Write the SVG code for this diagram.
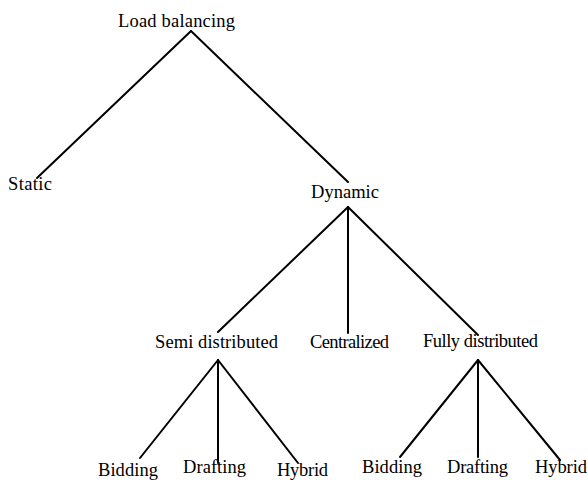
<svg xmlns="http://www.w3.org/2000/svg" width="588" height="480" viewBox="0 0 588 480">
<style>
text{font-family:"Liberation Serif","Times New Roman",serif;font-size:18.5px;fill:#000}
.c line{stroke:#000;stroke-width:2;stroke-linecap:round}
</style>
<rect width="588" height="480" fill="#fff"/>
<g class="c" id="connectors">
<line x1="191" y1="31" x2="37" y2="178"/>
<line x1="191" y1="31" x2="348" y2="182"/>
<line x1="348" y1="207" x2="218" y2="332"/>
<line x1="348" y1="207" x2="348" y2="333"/>
<line x1="348" y1="207" x2="478" y2="335"/>
<line x1="218" y1="360" x2="140" y2="458"/>
<line x1="218" y1="360" x2="218" y2="463"/>
<line x1="218" y1="360" x2="298" y2="463"/>
<line x1="478" y1="360" x2="400" y2="457"/>
<line x1="478" y1="360" x2="478" y2="457"/>
<line x1="478" y1="360" x2="560" y2="460"/>
</g>
<g id="load-balancing"><text x="118" y="27" textLength="117">Load balancing</text></g>
<g id="static"><text x="8" y="190" textLength="44">Static</text></g>
<g id="dynamic"><text x="311" y="198" textLength="68">Dynamic</text></g>
<g id="semi-distributed"><text x="155" y="348" textLength="123">Semi distributed</text></g>
<g id="centralized"><text x="310" y="348" textLength="79">Centralized</text></g>
<g id="fully-distributed"><text x="423" y="347" textLength="115">Fully distributed</text></g>
<g id="semi-bidding"><text x="98" y="476" textLength="60">Bidding</text></g>
<g id="semi-drafting"><text x="183" y="473" textLength="63">Drafting</text></g>
<g id="semi-hybrid"><text x="277" y="476" textLength="51">Hybrid</text></g>
<g id="fully-bidding"><text x="362" y="473" textLength="60">Bidding</text></g>
<g id="fully-drafting"><text x="447" y="473" textLength="61">Drafting</text></g>
<g id="fully-hybrid"><text x="535" y="473" textLength="52">Hybrid</text></g>
</svg>
